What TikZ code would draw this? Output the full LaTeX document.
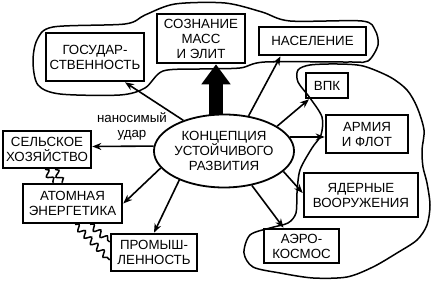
\documentclass[tikz,border=0pt]{standalone}
\usepackage{fontspec}
\setmainfont{Liberation Sans}
\usepackage{tikz}
\usetikzlibrary{
  arrows.meta,
  positioning,
  shapes.geometric,
  backgrounds,
  decorations.pathmorphing
}
\newcommand{\boxfont}{\fontsize{13.3}{15}\selectfont}
\tikzset{
  topicbox/.style={
    draw,
    line width=2.6pt,
    fill=white,
    align=center,
    inner sep=2pt,
    font=\boxfont
  },
  conceptnode/.style={
    ellipse,
    draw,
    line width=1.8pt,
    fill=white,
    align=center,
    inner sep=0pt,
    minimum width=118pt,
    minimum height=73pt,
    font=\boxfont
  },
  hitlabel/.style={align=center,inner sep=1pt,font=\boxfont},
  flowarrow/.style={-{Stealth[length=9pt,width=7pt]},line width=1.6pt},
  massarrow/.style={-{Triangle[length=20pt,width=28pt]},line width=14pt},
  wavelink/.style={line width=1.5pt,decorate,decoration={snake,amplitude=3pt,segment length=9pt}},
  zoneline/.style={line width=1.5pt}
}
\begin{document}
\begin{tikzpicture}[x=1pt,y=1pt]
  \useasboundingbox (0,0) rectangle (432,283);

  \node[conceptnode] (concept) at (224,132) {КОНЦЕПЦИЯ\\УСТОЙЧИВОГО\\РАЗВИТИЯ};

  \node[topicbox,minimum width=98pt,minimum height=48pt] (gos) at (95,226) {ГОСУДАР-\\СТВЕННОСТЬ};
  \node[topicbox,minimum width=88pt,minimum height=49pt] (mass) at (201,244.5) {СОЗНАНИЕ\\МАСС\\И ЭЛИТ};
  \node[topicbox,minimum width=107pt,minimum height=28pt] (pop) at (312.5,242) {НАСЕЛЕНИЕ};
  \node[topicbox,minimum width=42pt,minimum height=25pt] (vpk) at (327,197.5) {ВПК};
  \node[topicbox,minimum width=82pt,minimum height=38pt] (army) at (367,149) {АРМИЯ\\И ФЛОТ};
  \node[topicbox,minimum width=114pt,minimum height=44pt] (yad) at (361,88) {ЯДЕРНЫЕ\\ВООРУЖЕНИЯ};
  \node[topicbox,minimum width=75pt,minimum height=34pt] (aero) at (301.5,37) {АЭРО-\\КОСМОС};
  \node[topicbox,minimum width=88pt,minimum height=37pt] (selo) at (47,133.5) {СЕЛЬСКОЕ\\ХОЗЯЙСТВО};
  \node[topicbox,minimum width=99pt,minimum height=39pt] (atom) at (72.5,79.5) {АТОМНАЯ\\ЭНЕРГЕТИКА};
  \node[topicbox,minimum width=86pt,minimum height=37pt] (prom) at (154,30.5) {ПРОМЫШ-\\ЛЕННОСТЬ};

  \node[hitlabel] (blow) at (132,157) {наносимый\\удар};

  \begin{scope}[on background layer]
    \draw[massarrow] ([xshift=15pt]mass.south |- concept.center) -- ([xshift=15pt]mass.south);
  \end{scope}

  \draw[flowarrow] (concept.143) -- ([xshift=30pt]gos.south);
  \draw[flowarrow] (concept.55) -- ([xshift=-32pt]pop.south);
  \draw[flowarrow] (concept.25) -- ([xshift=-18pt]vpk.south);
  \draw[flowarrow] (concept.12) -- ([yshift=-3pt]army.west);
  \draw[flowarrow] (concept.-19) -- ([yshift=2pt]yad.west);
  \draw[flowarrow] (concept.-51) -- ([xshift=-18pt]aero.north);
  \draw[flowarrow] (concept.176) -- ([yshift=3pt]selo.east);
  \draw[flowarrow] (concept.-165) -- (atom.east);
  \draw[flowarrow] (concept.-147) -- (prom.north);

  \draw[wavelink] ([xshift=-2pt]selo.south) -- ([xshift=-19pt]atom.north);
  \draw[wavelink] ([xshift=8pt]selo.south) -- ([xshift=-10pt]atom.north);
  \draw[wavelink] ([xshift=2.5pt]atom.south) -- ([yshift=-7.5pt]prom.west);
  \draw[wavelink] ([xshift=17.5pt]atom.south) -- ([yshift=10.5pt]prom.west);

  \draw[zoneline] plot[smooth cycle] coordinates {
    (53,256) (125,259) (145,268) (175,279) (225,280) (262,271) (290,262) (362,262)
    (375,253) (378,238) (368,222) (350,221) (265,221) (240,215) (200,214) (163,212)
    (145,195) (120,188) (60,189) (38,198) (33,221) (37,243)};
  \draw[zoneline] plot[smooth cycle] coordinates {
    (310,185) (298,201) (298,213) (310,218) (337,219) (363,217) (390,206) (407,193)
    (417,176) (424,153) (422,133) (423,116) (427,100) (430,78) (427,58) (417,43)
    (397,30) (373,16) (347,6) (313,5) (280,10) (253,16) (244,30) (250,48)
    (270,55) (288,60) (296,70) (297,90) (300,113) (312,135) (321,148) (322,166)};
\end{tikzpicture}
\end{document}
